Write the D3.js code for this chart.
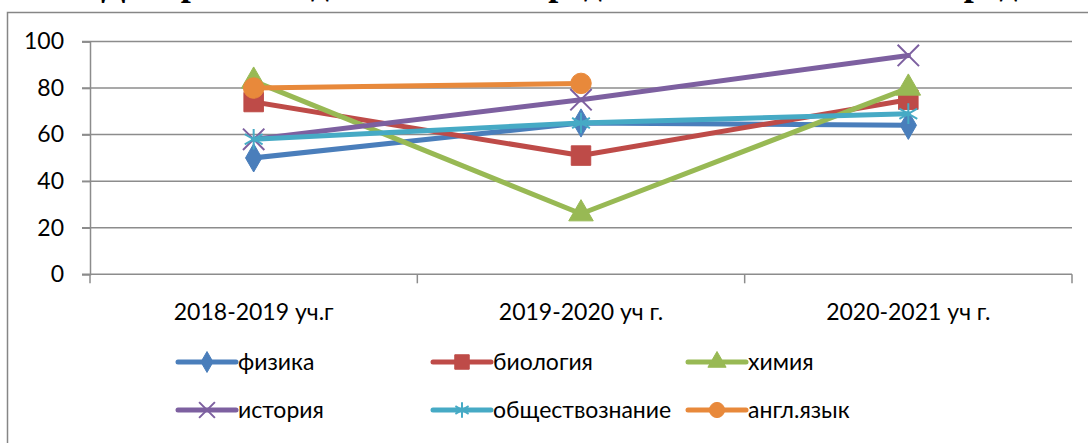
<!DOCTYPE html>
<html>
<head>
<meta charset="utf-8">
<script src="https://cdn.jsdelivr.net/npm/d3@7"></script>
<style>
  body { margin: 0; background: #fff; }
  svg text { font-family: Lato, "Open Sans", sans-serif; fill: #000; }
</style>
</head>
<body>
<div id="chart"></div>
<script>
// categories and series
var years = ["2018-2019 уч.г", "2019-2020 уч г.", "2020-2021 уч г."];
var fizika = [50, 65, 64];
var biologiya = [74, 51, 75];
var khimiya = [83, 26, 80];
var istoriya = [58, 75, 94];
var obshchestvo = [58, 65, 69];
var anglYazyk = [80, 82, null];
var yTicks = [0, 20, 40, 60, 80, 100];
var titleText = "Диаграмма сдачи ОГЭ по предметам и качество по предметам";

var series = [
  {name: "физика", values: fizika, color: "#4A7EBB", symbol: d3.symbolDiamond, size: 230, fill: true},
  {name: "биология", values: biologiya, color: "#BE4B48", symbol: d3.symbolSquare, size: 380, fill: true},
  {name: "химия", values: khimiya, color: "#98B954", symbol: d3.symbolTriangle, size: 260, fill: true},
  {name: "история", values: istoriya, color: "#7D60A0", symbol: d3.symbolX, size: 300, fill: false},
  {name: "обществознание", values: obshchestvo, color: "#46AAC5", symbol: d3.symbolAsterisk, size: 300, fill: false},
  {name: "англ.язык", values: anglYazyk, color: "#E8893B", symbol: d3.symbolCircle, size: 330, fill: true}
];

var W = 1088, H = 443;
var plot = {left: 90, right: 1072, top: 41.5, bottom: 274.3};

var svg = d3.select("#chart").append("svg")
    .attr("width", W)
    .attr("height", H);

svg.append("rect").attr("width", W).attr("height", H).attr("fill", "#fff");

// chart frame (runs off the right and bottom edge)
svg.append("rect")
    .attr("x", 7.5).attr("y", 12.5)
    .attr("width", W + 20).attr("height", H + 20)
    .attr("fill", "none")
    .attr("stroke", "#868686")
    .attr("stroke-width", 1.5);

// title, cut off by the top of the picture
svg.append("text")
    .attr("x", 101)
    .attr("y", -5)
    .style("font-family", "'Liberation Serif', serif")
    .style("font-weight", "bold")
    .style("font-size", "36px")
    .text(titleText);

var x = d3.scaleBand().domain(years).range([plot.left, plot.right]);
var y = d3.scaleLinear().domain([0, 100]).range([plot.bottom, plot.top]);

// gridlines
svg.append("g").selectAll("line")
    .data(yTicks)
    .enter().append("line")
    .attr("x1", plot.left - 8)
    .attr("x2", plot.right)
    .attr("y1", function(d) { return y(d); })
    .attr("y2", function(d) { return y(d); })
    .attr("stroke", "#8C8C8C")
    .attr("stroke-width", 1.5);

// y axis
var yAxis = svg.append("g")
    .attr("transform", "translate(" + plot.left + ",0)")
    .call(d3.axisLeft(y).tickValues(yTicks).tickSize(8).tickPadding(18));
yAxis.select(".domain").attr("stroke", "#8C8C8C").attr("stroke-width", 1.5);
yAxis.selectAll(".tick line").attr("stroke", "#8C8C8C").attr("stroke-width", 1.5);
yAxis.selectAll("text").style("font-size", "23px");

// x axis labels
var xAxis = svg.append("g")
    .attr("transform", "translate(0," + plot.bottom + ")")
    .call(d3.axisBottom(x).tickSize(0).tickPadding(29));
xAxis.select(".domain").remove();
xAxis.selectAll("text").style("font-size", "23px");

// x tick marks between categories
var edges = years.map(function(d) { return x(d); }).concat([x(years[years.length - 1]) + x.bandwidth()]);
svg.append("g").selectAll("line")
    .data(edges)
    .enter().append("line")
    .attr("x1", function(d) { return d; })
    .attr("x2", function(d) { return d; })
    .attr("y1", plot.bottom)
    .attr("y2", plot.bottom + 9)
    .attr("stroke", "#8C8C8C")
    .attr("stroke-width", 1.5);

function cx(i) { return x(years[i]) + x.bandwidth() / 2; }

var line = d3.line()
    .defined(function(d) { return d != null; })
    .x(function(d, i) { return cx(i); })
    .y(function(d) { return y(d); });

function drawMarker(g, s, px, py, k) {
  g.append("path")
    .attr("d", d3.symbol().type(s.symbol).size(s.size * k)())
    .attr("transform", "translate(" + px + "," + py + ")")
    .attr("fill", s.fill ? s.color : "none")
    .attr("stroke", s.color)
    .attr("stroke-width", s.fill ? 1 : 2);
}

series.forEach(function(s) {
  var g = svg.append("g");
  g.append("path")
    .attr("d", line(s.values))
    .attr("fill", "none")
    .attr("stroke", s.color)
    .attr("stroke-width", 5)
    .attr("stroke-linejoin", "round")
    .attr("stroke-linecap", "round");
  s.values.forEach(function(v, i) {
    if (v == null) return;
    drawMarker(g, s, cx(i), y(v), 1);
  });
});

// legend, two rows of three
var legX = [178, 433, 688];
var legY = [362, 410];
series.forEach(function(s, i) {
  var lx = legX[i % 3], ly = legY[Math.floor(i / 3)];
  var g = svg.append("g");
  g.append("line")
    .attr("x1", lx).attr("x2", lx + 58)
    .attr("y1", ly).attr("y2", ly)
    .attr("stroke", s.color)
    .attr("stroke-width", 5)
    .attr("stroke-linecap", "round");
  drawMarker(g, s, lx + 29, ly, 0.55);
  g.append("text")
    .attr("x", lx + 60)
    .attr("y", ly)
    .attr("dy", "0.35em")
    .style("font-size", "23px")
    .text(s.name);
});
</script>
</body>
</html>
